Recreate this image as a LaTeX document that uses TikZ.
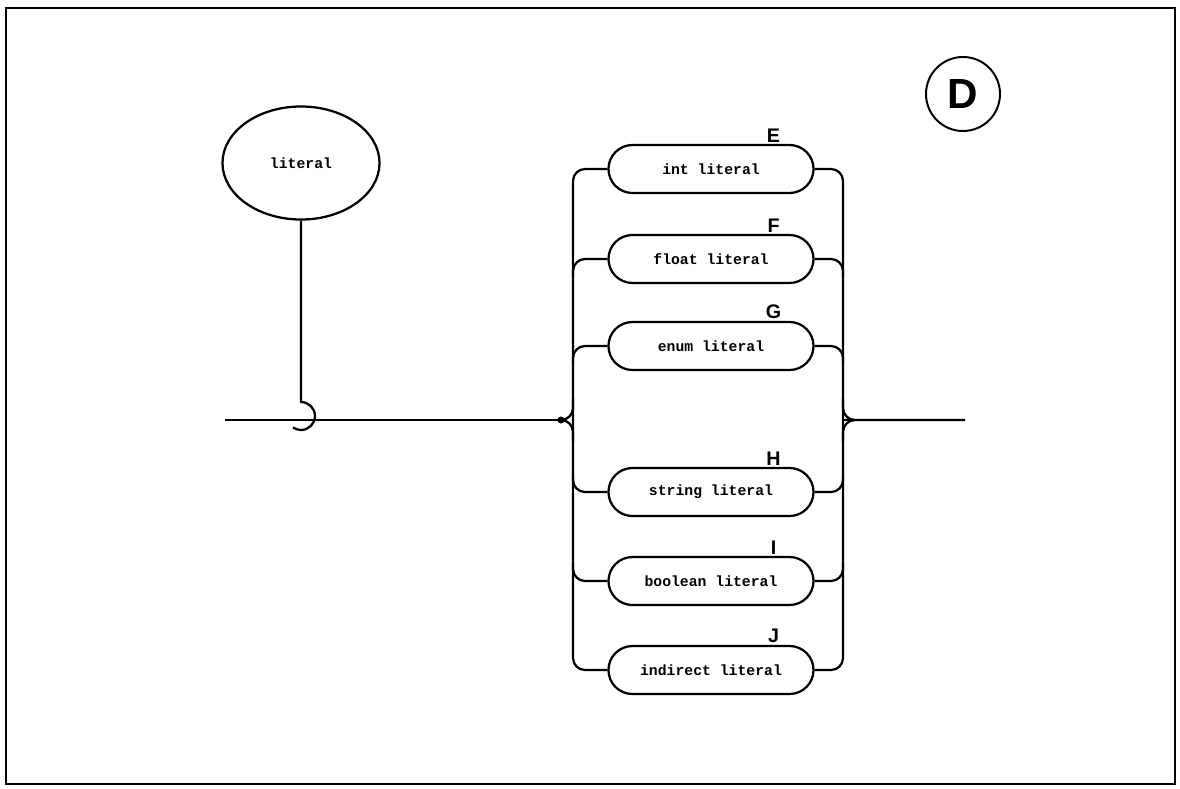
\documentclass[tikz,border=0pt]{standalone}
\usepackage{fontspec}
\setsansfont{Liberation Sans}
\setmonofont{Liberation Mono}
\usepackage{tikz}
\usetikzlibrary{shapes.geometric,shapes.misc,calc,positioning}
\tikzset{
  rail/.style={line width=1.6pt, rounded corners=0.3cm},
  litbox/.style={rounded rectangle, draw, line width=1.6pt, inner sep=0pt,
                 minimum width=5.125cm, minimum height=1.2cm,
                 font=\ttfamily\bfseries\fontsize{10.5}{12}\selectfont},
  litoval/.style={ellipse, draw, line width=1.6pt, inner sep=0pt,
                  minimum width=3.925cm, minimum height=2.825cm,
                  font=\ttfamily\bfseries\fontsize{10.5}{12}\selectfont},
  tlab/.style={font=\sffamily\bfseries\fontsize{14}{16}\selectfont,
               anchor=south, inner sep=1pt},
  dmark/.style={circle, draw, line width=1.4pt, minimum size=1.85cm,
                inner sep=0pt, font=\sffamily\bfseries\fontsize{30}{32}\selectfont},
}
\begin{document}
\begin{tikzpicture}[x=0.025cm,y=-0.025cm]
  \useasboundingbox (0,0) rectangle (1180,789);
  \draw[line width=1.5pt] (6,8) rectangle (1175,784);

  % page mark
  \node[dmark] (dlab) at (963,94) {D};

  % the rule name and its hook onto the main line
  \node[litoval] (lit) at (301,163) {literal};
  \coordinate (hooktop) at (301,402);
  \draw[line width=1.6pt] (lit.south) -- (hooktop) arc[start angle=-90, end angle=125, radius=14];

  % main line and branch points
  \coordinate (lstart) at (225,420);
  \coordinate (ljoin) at (561,420);
  \coordinate (lr) at (573,420);
  \coordinate (rr) at (843,420);
  \coordinate (rjoin) at (855,420);
  \coordinate (rend) at (965,420);
  \draw[rail] (lstart) -- (ljoin);
  \fill (ljoin) circle[radius=3.5];

  % the six alternatives
  \foreach \n/\y/\txt/\t in {intlit/169/int literal/E, floatlit/259/float literal/F,
      enumlit/346/enum literal/G, strlit/492/string literal/H,
      boollit/581/boolean literal/I, indlit/670/indirect literal/J}{
    \node[litbox] (\n) at (711,\y) {\txt};
    \node[tlab] at ($(\n.north east)+(-16,0)$) {\t};
  }

  % rails
  \draw[rail] (intlit.west) -| (lr |- indlit.west) -- (indlit.west);
  \draw[rail] (intlit.east) -| (rr |- indlit.east) -- (indlit.east);
  \foreach \n/\s in {floatlit/18, enumlit/18, strlit/-18, boollit/-18}{
    \draw[rail] (\n.west) -| ($(lr |- \n.west)+(0,\s)$);
    \draw[rail] (\n.east) -| ($(rr |- \n.east)+(0,\s)$);
  }

  % braces at the branch points
  \draw[rail] (ljoin) -| ($(lr)+(0,-22)$);
  \draw[rail] (ljoin) -| ($(lr)+(0,22)$);
  \draw[rail] ($(rr)+(0,-22)$) |- (rjoin) -- (rend);
  \draw[rail] ($(rr)+(0,22)$) |- (rjoin);
\end{tikzpicture}
\end{document}
